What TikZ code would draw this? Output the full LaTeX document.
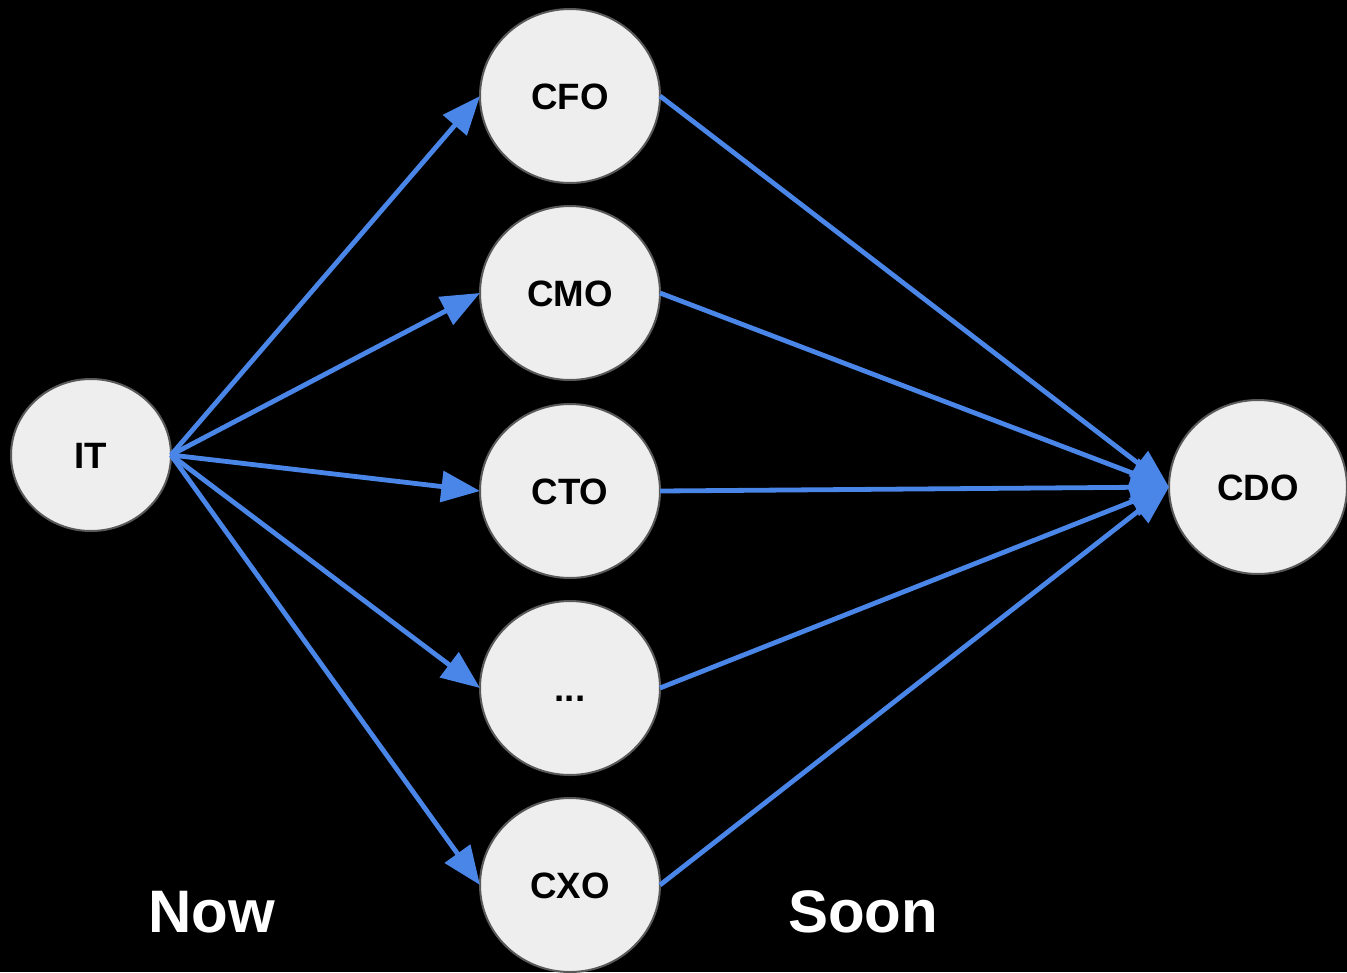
\documentclass[tikz,border=0pt]{standalone}
\usepackage{fontspec}
\setmainfont{Liberation Sans}
\usetikzlibrary{shapes.geometric,arrows.meta}
\definecolor{linkblue}{HTML}{4A86E8}
\definecolor{bubble}{HTML}{EEEEEE}
\definecolor{rim}{HTML}{595959}
\tikzset{
  role/.style={ellipse, draw=rim, line width=1.5pt, fill=bubble, inner sep=0pt, outer sep=0pt,
    minimum width=135pt, minimum height=130.5pt, text height=19.7pt, text depth=0pt,
    font=\fontsize{27.5}{32}\selectfont\bfseries},
  flow/.style={draw=linkblue, line width=3.6pt, -{Triangle[length=29pt,width=23pt]}},
  stage/.style={text=white, font=\fontsize{45}{52}\selectfont\bfseries}
}
\begin{document}
\begin{tikzpicture}[x=0.75pt, y=-0.75pt]
  \fill[black] (0,0) rectangle (1347,972);
  \useasboundingbox (0,0) rectangle (1347,972);

  \node[role, minimum width=120pt, minimum height=114pt] (it) at (91,455) {IT};
  \node[role] (cfo) at (570,96) {CFO};
  \node[role] (cmo) at (570,293) {CMO};
  \node[role] (cto) at (570,491) {CTO};
  \node[role] (etc) at (570,688) {...};
  \node[role] (cxo) at (570,885) {CXO};
  \node[role, minimum width=133.5pt] (cdo) at (1258,487) {CDO};

  \foreach \n in {cfo,cmo,cto,etc,cxo}{
    \draw[flow] (it.east) -- (\n.west);
    \draw[flow] (\n.east) -- (cdo.west);
  }

  \node[stage] (now) at (212,912) {Now};
  \node[stage] (soon) at (863,912) {Soon};
\end{tikzpicture}
\end{document}
